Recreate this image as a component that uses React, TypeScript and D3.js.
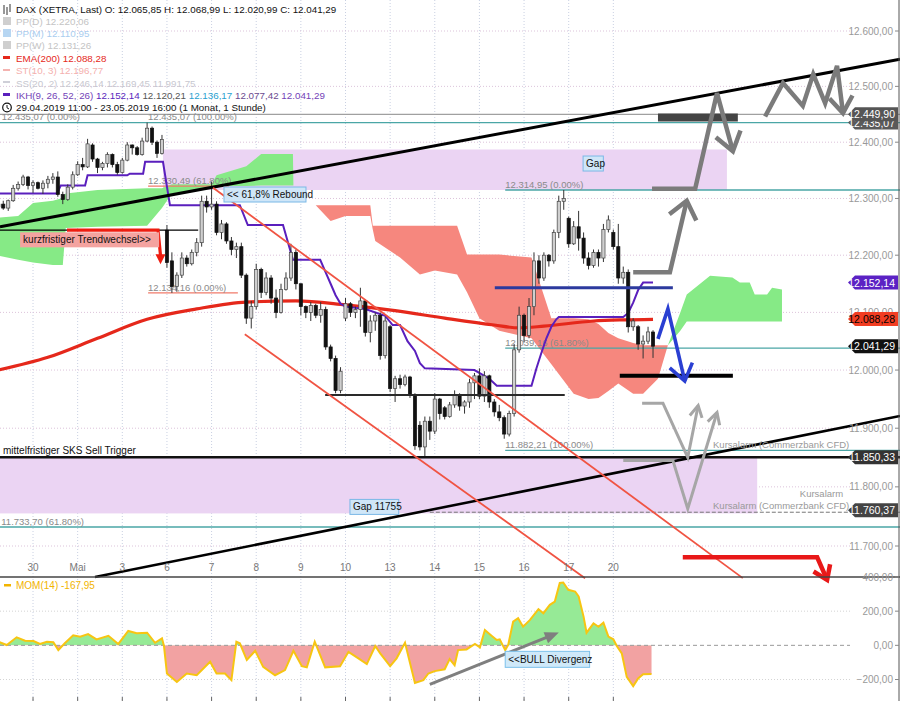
import React from "react";
import * as d3 from "d3";

const W = 900;
const H = 701;

// ---- time axis (hourly bar index) ----
const dayLabels = ["30", "Mai", "3", "6", "7", "8", "9", "10", "13", "14", "15", "16", "17", "20"];
const dayStarts = [7, 16, 25, 34, 43, 52, 61, 70, 79, 88, 97, 106, 115, 124];

// ---- candles [open, high, low, close] ----
const candles: number[][] = [
  [12285, 12295, 12280, 12290], [12290, 12296, 12280, 12283], [12283, 12298, 12278, 12296], [12296, 12324, 12294, 12318],
  [12318, 12330, 12314, 12325], [12325, 12342, 12322, 12338], [12338, 12340, 12316, 12323], [12323, 12332, 12310, 12328],
  [12328, 12330, 12316, 12318], [12318, 12332, 12308, 12327], [12327, 12340, 12318, 12334], [12334, 12345, 12326, 12338],
  [12338, 12348, 12303, 12307], [12307, 12312, 12290, 12298], [12298, 12325, 12296, 12320], [12320, 12348, 12316, 12342],
  [12342, 12366, 12340, 12360], [12360, 12372, 12350, 12356], [12356, 12406, 12354, 12397], [12395, 12398, 12365, 12370],
  [12370, 12372, 12345, 12355], [12355, 12365, 12350, 12362], [12362, 12382, 12355, 12378], [12378, 12380, 12355, 12360],
  [12360, 12365, 12342, 12346], [12346, 12372, 12344, 12368], [12368, 12400, 12366, 12395], [12395, 12396, 12378, 12390],
  [12390, 12393, 12376, 12378], [12378, 12408, 12376, 12402], [12402, 12435, 12400, 12425], [12425, 12428, 12395, 12400],
  [12400, 12403, 12372, 12380], [12380, 12413, 12378, 12405],
  [12244, 12253, 12178, 12187], [12190, 12205, 12134, 12145], [12145, 12170, 12136, 12165], [12165, 12205, 12160, 12195],
  [12195, 12200, 12180, 12185], [12185, 12210, 12182, 12205], [12205, 12230, 12198, 12222], [12222, 12305, 12215, 12295],
  [12295, 12305, 12275, 12285], [12285, 12330, 12280, 12290], [12290, 12295, 12235, 12240], [12240, 12262, 12228, 12255],
  [12255, 12258, 12220, 12225], [12225, 12232, 12200, 12210], [12210, 12222, 12195, 12215], [12215, 12222, 12160, 12165],
  [12165, 12168, 12080, 12090], [12090, 12120, 12072, 12110], [12110, 12185, 12105, 12175], [12175, 12178, 12125, 12135],
  [12135, 12170, 12130, 12160], [12160, 12165, 12115, 12125], [12125, 12140, 12090, 12100], [12100, 12150, 12098, 12140],
  [12140, 12170, 12138, 12160], [12160, 12220, 12155, 12205], [12205, 12210, 12140, 12150], [12150, 12150, 12095, 12110],
  [12110, 12112, 12090, 12100], [12100, 12118, 12085, 12112], [12112, 12115, 12090, 12095], [12095, 12118, 12082, 12105],
  [12105, 12110, 12035, 12040], [12040, 12044, 12015, 12020], [12020, 12025, 11960, 11965], [11965, 12005, 11960, 11998],
  [12090, 12125, 12085, 12115], [12115, 12118, 12092, 12100], [12100, 12110, 12090, 12105], [12105, 12143, 12075, 12120],
  [12120, 12122, 12058, 12065], [12065, 12095, 12048, 12085], [12085, 12100, 12068, 12095], [12095, 12100, 12018, 12025],
  [12025, 12092, 12020, 12085], [12075, 12078, 11962, 11968], [11968, 11990, 11945, 11985], [11985, 11992, 11968, 11975],
  [11975, 11992, 11972, 11988], [11988, 11990, 11952, 11958], [11958, 11960, 11863, 11870], [11905, 11912, 11862, 11868],
  [11868, 11920, 11850, 11912], [11912, 11920, 11880, 11895], [11895, 11960, 11890, 11950], [11950, 11952, 11915, 11925],
  [11935, 11938, 11915, 11920], [11920, 11945, 11918, 11940], [11940, 11965, 11935, 11958], [11958, 11960, 11930, 11938],
  [11938, 11948, 11925, 11945], [11945, 11985, 11935, 11978], [11978, 11995, 11950, 11990], [11990, 12003, 11950, 11955],
  [11955, 11998, 11945, 11990], [11990, 11992, 11935, 11945], [11945, 11950, 11920, 11928], [11928, 11940, 11912, 11918],
  [11918, 11922, 11882, 11890], [11890, 11930, 11886, 11925], [11925, 12045, 11920, 12035], [12035, 12110, 12030, 12095],
  [12095, 12098, 12048, 12060], [12060, 12125, 12055, 12110], [12110, 12205, 12095, 12190], [12190, 12200, 12150, 12160],
  [12160, 12205, 12155, 12200], [12200, 12202, 12180, 12190], [12190, 12245, 12185, 12240], [12240, 12305, 12230, 12295],
  [12295, 12315, 12280, 12300], [12265, 12268, 12213, 12220], [12220, 12260, 12218, 12250], [12250, 12278, 12208, 12230],
  [12230, 12240, 12185, 12195], [12195, 12205, 12175, 12182], [12182, 12210, 12178, 12205], [12205, 12210, 12180, 12195],
  [12195, 12255, 12188, 12245], [12245, 12270, 12240, 12262], [12240, 12245, 12210, 12215], [12215, 12255, 12150, 12160],
  [12160, 12180, 12150, 12170], [12170, 12175, 12065, 12075], [12075, 12090, 12068, 12085], [12075, 12078, 12035, 12045],
  [12045, 12060, 12020, 12050], [12050, 12075, 12045, 12066], [12065.85, 12068.99, 12020.99, 12041.29],
];

// ---- EMA(200) [index, value] ----
const ema200: number[][] = [
  [0, 12000], [10, 12022], [20, 12055], [30, 12088], [40, 12106], [50, 12118], [60, 12120], [70, 12113],
  [80, 12103], [90, 12090], [100, 12078], [105, 12073], [110, 12076], [120, 12085], [126, 12087], [132, 12088],
];

// ---- IKH line (purple) [index, value] ----
const ikhLine: number[][] = [
  [0, 12309], [11.8, 12309], [12.6, 12323], [17.5, 12323], [18, 12341], [26, 12341], [26.5, 12344], [29.2, 12344],
  [29.6, 12365], [33.2, 12365], [34.6, 12288], [48.7, 12288], [50.3, 12253], [57.4, 12253], [59.4, 12192], [64.9, 12192],
  [66, 12170], [67, 12150], [68, 12130], [69, 12115], [70, 12110], [74, 12106], [78, 12094], [79.5, 12078], [81, 12078],
  [82.5, 12050], [84, 12033], [85, 12012], [86, 12003], [96, 12000], [98, 11990], [99, 11985], [100.5, 11973],
  [107.5, 11973], [108.5, 12003], [109.5, 12030], [110.5, 12055], [111.5, 12075], [112.5, 12088], [113, 12092],
  [126, 12092], [127, 12099], [128, 12117], [129, 12139], [130, 12152], [132, 12152],
];

// ---- Ichimoku cloud [index, upper, lower] ----
const cloudGreen1: number[][] = [
  [0, 12266, 12199], [4, 12269, 12192], [7, 12292, 12187], [11, 12296, 12183], [13, 12301, 12183], [13.6, 12309, 12248],
  [20, 12315, 12250], [30, 12318, 12252], [33, 12318, 12283], [35, 12325, 12309], [43, 12325, 12320], [44, 12341, 12322],
  [50, 12357, 12322], [53, 12379, 12323], [59.4, 12379, 12323], [59.5, 12323, 12323],
];
const cloudRed: number[][] = [
  [64, 12288, 12288], [67, 12288, 12260], [70, 12288, 12269], [75, 12288, 12269], [75.5, 12252, 12245], [76, 12252, 12225],
  [81, 12252, 12196], [85, 12252, 12166], [88, 12252, 12173], [92.5, 12252, 12166], [94.5, 12201, 12135], [97, 12201, 12090],
  [101, 12201, 12068], [107.5, 12196, 12055], [111.5, 12090, 12010], [116, 12090, 11959], [119, 12088, 11950],
  [121, 12080, 11952], [123, 12064, 11964], [125, 12055, 11977], [128, 12047, 11959], [130, 12043, 11959],
  [133, 12043, 11985], [135, 12043, 12043],
];
const cloudGreen2: number[][] = [
  [135, 12043, 12043], [137.5, 12100, 12068], [138.8, 12131, 12084], [143.5, 12164, 12084], [148, 12161, 12084],
  [149.5, 12152, 12084], [151.5, 12152, 12084], [152.5, 12131, 12084], [155, 12131, 12084], [156, 12143, 12084],
  [158, 12140, 12084],
];

// ---- MOM(14) [index, value] ----
const mom: number[][] = [
  [0, 21], [1.7, 2], [3.7, 47], [5.4, 27], [7.1, 25], [8.4, 8], [9.8, 21], [11.1, 18], [12.1, -28], [13.4, 12],
  [15.1, 59], [16.5, 51], [18.1, 66], [19.8, 35], [22.2, 56], [24.2, 8], [26.2, 84], [27.9, 71], [30, 74], [31.6, 15],
  [33, 41], [33.4, -4], [34, -165], [36, -214], [38, -165], [40, -175], [42.7, -96], [44, -165], [45.7, -165], [47, -204],
  [48, 21], [48.7, 12], [50.1, -86], [51.8, -32], [53.4, -126], [55.8, -175], [57.8, -145], [59.5, -32], [61.2, -122],
  [62.2, -129], [63.8, 21], [65.9, -129], [68.9, -122], [70.6, -38], [72.6, -76], [74.3, -110], [76, -4], [77, -47],
  [79, -122], [80.3, -76], [82, 15], [84, -220], [85.7, -204], [86.7, -165], [88, -151], [90, -140], [91, -80],
  [92, -116], [92.7, -28], [94.4, -24], [96.1, 8], [97.1, -12], [98.1, 90], [99.5, 55], [100.5, 31], [101.1, 35],
  [102.2, -28], [102.8, 2], [103.8, 139], [104.8, 159], [105.8, 109], [107.2, 149], [108.9, 212], [109.9, 188],
  [111.2, 237], [112.2, 256], [113.2, 365], [113.9, 368], [114.9, 325], [116.3, 315], [117, 286], [118, 168],
  [118.6, 74], [120, 129], [121, 109], [122, 133], [123, 51], [124, 35], [124.7, -4], [125.7, -47], [126.7, -185],
  [128, -239], [129, -194], [130, -169], [131.7, -168],
];
const momLegend = "MOM(14)  -167,95";

const priceTicks = [11700, 11800, 11900, 12000, 12100, 12200, 12300, 12400, 12500, 12600];
const momTicks = [400, 200, 0, -200];

// ---- horizontal levels ----
const fibLevels = [
  { price: 12449.9, from: 0, to: 182, color: "#a0a0a0", label: "", at: 0 },
  { price: 12435.07, from: 0, to: 182, color: "#4aa6a6", label: "12.435,07 (0.00%)", at: 0.7 },
  { price: 12322, from: 30.2, to: 46.5, color: "#f07a6a", label: "12.330,49 (61.80%)", at: 30.2 },
  { price: 12134.16, from: 30.2, to: 48.3, color: "#f07a6a", label: "12.134,16 (0.00%)", at: 30.2 },
  { price: 12314.95, from: 102.2, to: 182, color: "#4aa6a6", label: "12.314,95 (0.00%)", at: 102.2 },
  { price: 12038, from: 102.2, to: 182, color: "#4aa6a6", label: "12.039,16 (61.80%)", at: 102.2 },
  { price: 11862, from: 102.2, to: 182, color: "#4aa6a6", label: "11.882,21 (100.00%)", at: 102.2 },
  { price: 11732, from: 0, to: 182, color: "#4aa6a6", label: "11.733,70 (61.80%)", at: 0.6 },
];
const extraLabel = { text: "12.435,07 (100.00%)", idx: 30.2, price: 12435.07 };

// ---- gaps [fromIndex, toIndex, top, bottom] ----
const gaps: number[][] = [
  [33.2, 146.9, 12387, 12315],
  [0, 153, 11850.33, 11755],
];

// ---- drawn lines [index, price] ----
const trendUpper: number[][] = [[0.34, 12250], [181.8, 12549]];
const trendLower: number[][] = [[19.5, 11648], [181.8, 11921]];
const channelUpper: number[][] = [[43.3, 12319], [150.1, 11646]];
const channelLower: number[][] = [[49.7, 12062], [118.3, 11646]];
const sksLevel = 11850.33;
const supportLine: number[][] = [[65.9, 11957], [114.2, 11957]];
const blueLine: number[][] = [[100.1, 12143], [136, 12143]];
const blackShort: number[][] = [[125.3, 11990], [148.1, 11990]];
const darkBar: number[][] = [[133, 12444], [149.1, 12444]];
const kurzLine: number[][] = [[0, 12244], [40.3, 12244]];
const kurzRed: number[][] = [[13.85, 12244], [32.2, 12244], [32.7, 12200]];
const alarmDashed: number[][] = [[87, 11757], [182, 11757]];

const arrowGrayTop: number[][] = [[131.8, 12317], [140.5, 12317], [144.9, 12488], [148.1, 12384]];
const arrowGrayMid: number[][] = [[128, 12170], [135.4, 12170], [138.8, 12296]];
const zigzag: number[][] = [[154.6, 12446], [158.2, 12506], [162.2, 12465], [164.3, 12522], [166.7, 12470], [169.1, 12537], [170.3, 12452]];
const arrowBlue: number[][] = [[133, 12054], [135, 12106], [138.4, 11981]];
const arrowLight1: number[][] = [[129.8, 11943], [134, 11943], [139, 11850], [141.1, 11939]];
const arrowLight2: number[][] = [[126, 11845], [136, 11845], [139, 11763], [144.9, 11927]];
const arrowRed: number[][] = [[138, 11681], [165.1, 11681], [167.1, 11643]];
const momArrow: number[][] = [[87, -228], [111.8, 61]];

// ---- text annotations ----
const boxes = [
  { text: "Gap", idx: 117.9, price: 12362, fill: "#cfe6f8", stroke: "#7bb8e6" },
  { text: "Gap 11755", idx: 70.9, price: 11766, fill: "#cfe6f8", stroke: "#7bb8e6" },
  { text: "<< 61,8% Rebound", idx: 45.5, price: 12307, fill: "#cfe6f8", stroke: "#7bb8e6" },
  { text: "kurzfristiger Trendwechsel>>", idx: 4.4, price: 12227, fill: "#f4a3a0", stroke: "none" },
];
const momBox = { text: "<<BULL Divergenz", idx: 102.2, value: -82 };
const alarmTexts = [
  { text: "Kursalarm (Commerzbank CFD)", idx: 144.1, price: 11866 },
  { text: "Kursalarm (Commerzbank CFD)", idx: 144.1, price: 11763 },
  { text: "Kursalarm", idx: 161.6, price: 11782 },
];

const tags = [
  { price: 12435.07, label: "12.435,07", bg: "#5a5a5a", fg: "#fff" },
  { price: 12449.9, label: "12.449,90", bg: "#555555", fg: "#fff" },
  { price: 12152.14, label: "12.152,14", bg: "#5b22c4", fg: "#fff" },
  { price: 12088.28, label: "12.088,28", bg: "#f23d22", fg: "#000" },
  { price: 12041.29, label: "12.041,29", bg: "#111111", fg: "#fff" },
  { price: 11850.33, label: "11.850,33", bg: "#333333", fg: "#fff" },
  { price: 11760.37, label: "11.760,37", bg: "#444444", fg: "#fff" },
];

const deLocale = d3.formatLocale({ decimal: ",", thousands: ".", grouping: [3], currency: ["", "€"] });
const fmt = deLocale.format(",.2f");

function headPath(x1: number, y1: number, x2: number, y2: number, len: number, ang: number) {
  const a = Math.atan2(y2 - y1, x2 - x1);
  const w1x = x2 - len * Math.cos(a - ang), w1y = y2 - len * Math.sin(a - ang);
  const w2x = x2 - len * Math.cos(a + ang), w2y = y2 - len * Math.sin(a + ang);
  return `M${w1x},${w1y}L${x2},${y2}L${w2x},${w2y}`;
}
function triPath(x1: number, y1: number, x2: number, y2: number, len: number, half: number) {
  const a = Math.atan2(y2 - y1, x2 - x1);
  const bx = x2 - len * Math.cos(a), by = y2 - len * Math.sin(a);
  const px = -Math.sin(a) * half, py = Math.cos(a) * half;
  return `M${x2},${y2}L${bx + px},${by + py}L${bx - px},${by - py}Z`;
}

export default function App() {
  const xS = d3.scaleLinear().domain([0, 100]).range([-1.7, 494.3]);
  const yS = d3.scaleLog().domain([11700, 12600]).range([546, 31]);
  const yM = d3.scaleLinear().domain([-200, 400]).range([679.5, 577]);

  const pLine = d3.line<number[]>().x((d) => xS(d[0])).y((d) => yS(d[1]));
  const mLine = d3.line<number[]>().x((d) => xS(d[0])).y((d) => yM(d[1]));
  const cloudArea = d3.area<number[]>().x((d) => xS(d[0])).y0((d) => yS(d[2])).y1((d) => yS(d[1]));
  const momArea = d3.area<number[]>().x((d) => xS(d[0])).y0(yM(0)).y1((d) => yM(d[1]));
  const emaPath = d3.line<number[]>().x((d) => xS(d[0])).y((d) => yS(d[1])).curve(d3.curveMonotoneX)(ema200) || "";

  const font = "'Liberation Sans', Arial, Helvetica, sans-serif";
  const plotRight = 850;

  const arrowWithHead = (pts: number[][], color: string, width: number, len: number, ang: number, key: string) => {
    const px = pts.map((d) => [xS(d[0]), yS(d[1])]);
    const n = px.length;
    return (
      <g key={key} stroke={color} strokeWidth={width} fill="none" strokeLinejoin="miter" strokeLinecap="butt">
        <path d={"M" + px.map((p) => p.join(",")).join("L")} />
        <path d={headPath(px[n - 2][0], px[n - 2][1], px[n - 1][0], px[n - 1][1], len, ang)} />
      </g>
    );
  };

  return (
    <svg width={W} height={H} style={{ position: "absolute", left: 0, top: 0, background: "#fff" }} fontFamily={font}>
      <defs>
        <clipPath id="momAbove"><rect x={0} y={560} width={W} height={yM(0) - 560} /></clipPath>
        <clipPath id="momBelow"><rect x={0} y={yM(0)} width={W} height={H - yM(0)} /></clipPath>
        <clipPath id="pricePanel"><rect x={0} y={0} width={W} height={577} /></clipPath>
      </defs>
      <rect x={0} y={0} width={W} height={H} fill="#fff" />

      {/* grid */}
      {dayStarts.map((d, i) => (
        <line key={"vg" + i} x1={xS(d)} x2={xS(d)} y1={0} y2={H} stroke="#c9d0e2" strokeDasharray="1,2" />
      ))}
      {priceTicks.map((p) => (
        <line key={"hg" + p} x1={0} x2={plotRight} y1={yS(p)} y2={yS(p)} stroke="#dcc3da" strokeDasharray="1,2" />
      ))}
      {[200, -200].map((v) => (
        <line key={"mg" + v} x1={0} x2={plotRight} y1={yM(v)} y2={yM(v)} stroke="#d4d4d4" strokeDasharray="1,2" />
      ))}

      {/* gaps */}
      {gaps.map((g, i) => (
        <rect key={"gap" + i} x={xS(g[0])} y={yS(g[2])} width={xS(g[1]) - xS(g[0])} height={yS(g[3]) - yS(g[2])} fill="#ebd4f3" />
      ))}

      {/* ichimoku cloud */}
      <g clipPath="url(#pricePanel)">
        <path d={cloudArea(cloudGreen1) || ""} fill="#86ea86" />
        <path d={cloudArea(cloudRed) || ""} fill="#f6877e" />
        <path d={cloudArea(cloudGreen2) || ""} fill="#86ea86" />
      </g>

      {/* fib / level lines */}
      {fibLevels.map((f, i) => (
        <g key={"fib" + i}>
          <line x1={xS(f.from)} x2={Math.min(xS(f.to), W)} y1={yS(f.price)} y2={yS(f.price)} stroke={f.color} strokeWidth={1.3} />
          {f.label ? (
            <text x={xS(f.at)} y={yS(f.price) - 2.2} fontSize={9.5} fill="#8a8a8a">{f.label}</text>
          ) : null}
        </g>
      ))}
      <text x={xS(extraLabel.idx)} y={yS(extraLabel.price) - 2.2} fontSize={9.5} fill="#8a8a8a">{extraLabel.text}</text>
      <path d={pLine(alarmDashed) || ""} stroke="#777" strokeWidth={1} strokeDasharray="4,2" fill="none" />

      {/* EMA & IKH */}
      <path d={emaPath} stroke="#e5281b" strokeWidth={3.2} fill="none" />
      <path d={pLine(ikhLine) || ""} stroke="#5a1fbd" strokeWidth={2} fill="none" />

      {/* candles */}
      {candles.map((c, i) => {
        const x = xS(i);
        const up = c[3] >= c[0];
        const yo = yS(c[0]), yc = yS(c[3]);
        const top = Math.min(yo, yc), bh = Math.max(1, Math.abs(yo - yc));
        return (
          <g key={"c" + i}>
            <line x1={x} x2={x} y1={yS(c[1])} y2={yS(c[2])} stroke="#333" strokeWidth={1} />
            <rect x={x - 1.6} y={top} width={3.2} height={bh} fill={up ? "#cfcfcf" : "#111"} stroke={up ? "#444" : "#111"} strokeWidth={0.7} />
          </g>
        );
      })}

      {/* horizontal drawings */}
      <path d={pLine(kurzLine) || ""} stroke="#000" strokeWidth={1.3} fill="none" />
      <line x1={0} x2={W} y1={yS(sksLevel)} y2={yS(sksLevel)} stroke="#111" strokeWidth={2.6} />
      <path d={pLine(supportLine) || ""} stroke="#2a2a2a" strokeWidth={2} fill="none" />
      <path d={pLine(blueLine) || ""} stroke="#2c3a9e" strokeWidth={3} fill="none" />
      <path d={pLine(darkBar) || ""} stroke="#444" strokeWidth={8} fill="none" />

      {/* trend / channel lines */}
      <path d={pLine(trendUpper) || ""} stroke="#000" strokeWidth={3} fill="none" />
      <path d={pLine(trendLower) || ""} stroke="#000" strokeWidth={2.6} fill="none" />
      <path d={pLine(channelUpper) || ""} stroke="#f05443" strokeWidth={1.8} fill="none" />
      <path d={pLine(channelLower) || ""} stroke="#f05443" strokeWidth={1.8} fill="none" />
      <path d={pLine(blackShort) || ""} stroke="#000" strokeWidth={4} fill="none" />

      {/* red short-term arrow */}
      {(() => {
        const px = kurzRed.map((d) => [xS(d[0]), yS(d[1])]);
        const tipY = px[2][1] + 9;
        return (
          <g>
            <path d={"M" + px.map((p) => p.join(",")).join("L")} stroke="#ee1c10" strokeWidth={3.2} fill="none" />
            <path d={triPath(px[2][0], px[2][1] - 5, px[2][0], tipY, 10, 5)} fill="#ee1c10" />
          </g>
        );
      })()}

      {/* scenario arrows */}
      {arrowWithHead(arrowLight1, "#a6a6a6", 3, 13, 0.5, "l1")}
      {arrowWithHead(arrowLight2, "#a6a6a6", 3, 13, 0.5, "l2")}
      {arrowWithHead(arrowGrayTop, "#7b7b7b", 4.5, 22, 0.62, "gt")}
      {arrowWithHead(arrowGrayMid, "#7b7b7b", 4.5, 22, 0.68, "gm")}
      {arrowWithHead(zigzag, "#7b7b7b", 4.5, 20, 0.62, "zz")}
      {arrowWithHead(arrowBlue, "#2a3fd2", 3.6, 20, 0.62, "bl")}
      {arrowWithHead(arrowRed, "#e81818", 4.5, 16, 0.6, "rd")}

      {/* annotation boxes */}
      {boxes.map((b, i) => {
        const w = b.text.length * 4.75 + 6;
        const x = xS(b.idx), y = yS(b.price);
        return (
          <g key={"bx" + i}>
            <rect x={x} y={y - 7.5} width={w} height={15} fill={b.fill} stroke={b.stroke} strokeWidth={1} />
            <text x={x + 3} y={y + 3.5} fontSize={10} fill="#111">{b.text}</text>
          </g>
        );
      })}
      <text x={3} y={yS(sksLevel) - 3} fontSize={10} fill="#111">mittelfristiger SKS Sell Trigger</text>
      {alarmTexts.map((a, i) => (
        <text key={"al" + i} x={xS(a.idx)} y={yS(a.price)} fontSize={9.5} fill="#999">{a.text}</text>
      ))}

      {/* price panel bottom axis */}
      <line x1={0} x2={W} y1={577} y2={577} stroke="#444" strokeWidth={1.5} />
      {dayLabels.map((l, i) => (
        <text key={"dl" + i} x={xS(dayStarts[i])} y={571} fontSize={10} fill="#777" textAnchor="middle">{l}</text>
      ))}
      {dayStarts.map((d, i) => (
        <line key={"dt" + i} x1={xS(d)} x2={xS(d)} y1={697} y2={701} stroke="#666" />
      ))}

      {/* MOM panel */}
      <path d={momArea(mom) || ""} fill="#96ea96" clipPath="url(#momAbove)" />
      <path d={momArea(mom) || ""} fill="#f2a2a2" clipPath="url(#momBelow)" />
      <line x1={0} x2={plotRight} y1={yM(0)} y2={yM(0)} stroke="#999" strokeDasharray="4,3" />
      <path d={mLine(mom) || ""} stroke="#f7c512" strokeWidth={2} fill="none" />
      {(() => {
        const a = momArrow.map((d) => [xS(d[0]), yM(d[1])]);
        return (
          <g>
            <line x1={a[0][0]} y1={a[0][1]} x2={a[1][0]} y2={a[1][1]} stroke="#7f7f7f" strokeWidth={3} />
            <path d={triPath(a[0][0], a[0][1], a[1][0] + 6, a[1][1] - 2.4, 14, 6)} fill="#7f7f7f" />
          </g>
        );
      })()}
      {(() => {
        const w = momBox.text.length * 4.9 + 6;
        const x = xS(momBox.idx), y = yM(momBox.value);
        return (
          <g>
            <rect x={x} y={y - 8} width={w} height={16} fill="#cfe9f9" stroke="#7cc0ea" strokeWidth={1} />
            <text x={x + 3} y={y + 3.5} fontSize={10} fill="#111">{momBox.text}</text>
          </g>
        );
      })()}
      <g>
        <rect x={4} y={584} width={7} height={2.5} fill="#f2b400" />
        <text x={16} y={589} fontSize={10} fill="#f2b400">{momLegend}</text>
      </g>

      {/* right axis */}
      <line x1={899} x2={899} y1={0} y2={H} stroke="#555" strokeWidth={1} />
      {priceTicks.map((p) => (
        <g key={"pt" + p}>
          <text x={893} y={yS(p) + 3.5} fontSize={10} fill="#999" textAnchor="end">{fmt(p)}</text>
          <line x1={895} x2={899} y1={yS(p)} y2={yS(p)} stroke="#888" />
        </g>
      ))}
      {momTicks.map((v) => (
        <g key={"mt" + v}>
          <text x={893} y={yM(v) + 3.5} fontSize={10} fill="#999" textAnchor="end">{fmt(v)}</text>
          <line x1={895} x2={899} y1={yM(v)} y2={yM(v)} stroke="#888" />
        </g>
      ))}
      {tags.map((t, i) => {
        const y = yS(t.price);
        return (
          <g key={"tg" + i}>
            <path d={`M848,${y}L855,${y - 7}L898,${y - 7}L898,${y + 7}L855,${y + 7}Z`} fill={t.bg} />
            <text x={895} y={y + 4} fontSize={10.5} fill={t.fg} textAnchor="end">{t.label}</text>
          </g>
        );
      })}

      {/* legend */}
      <g fontSize={9.8}>
        <g stroke="#333" strokeWidth={1}>
          <line x1={4} x2={4} y1={5} y2={14} />
          <line x1={7} x2={7} y1={7} y2={15} />
          <line x1={10} x2={10} y1={4} y2={12} />
        </g>
        <text x={16} y={13} fill="#111">DAX (XETRA, Last)  O: 12.065,85  H: 12.068,99  L: 12.020,99  C: 12.041,29</text>
        <rect x={3} y={17} width={8} height={8} fill="#cfcfcf" />
        <text x={16} y={25} fill="#c4c4c4">PP(D)  12.220,06</text>
        <rect x={3} y={29} width={8} height={8} fill="#b7d6f2" />
        <text x={16} y={37} fill="#a9cdef">PP(M)  12.110,95</text>
        <rect x={3} y={41} width={8} height={8} fill="#cfcfcf" />
        <text x={16} y={49} fill="#c4c4c4">PP(W)  12.131,26</text>
        <rect x={3} y={56} width={7} height={3} fill="#e5281b" />
        <text x={16} y={62} fill="#e5281b">EMA(200)  12.088,28</text>
        <rect x={3} y={69} width={7} height={2} fill="#f4b3b0" />
        <text x={16} y={74} fill="#f4b0ae">ST(10, 3)  12.196,77</text>
        <rect x={3} y={81} width={7} height={2} fill="#cfcfd8" />
        <text x={16} y={87} fill="#c8c8d0">SS(20, 2)  12.246,14  12.169,45  11.991,75</text>
        <rect x={3} y={93} width={7} height={3} fill="#5a1fbd" />
        <text x={16} y={99}>
          <tspan fill="#7343b8">IKH(9, 26, 52, 26)  </tspan>
          <tspan fill="#5a1fbd">12.152,14  </tspan>
          <tspan fill="#555">12.120,21  </tspan>
          <tspan fill="#2b9fd0">12.136,17  </tspan>
          <tspan fill="#6a4a90">12.077,42  </tspan>
          <tspan fill="#7343b8">12.041,29</tspan>
        </text>
        <circle cx={7} cy={107.5} r={4.3} fill="none" stroke="#111" strokeWidth={1.2} />
        <path d="M7,105L7,107.8L9,109" stroke="#111" strokeWidth={1} fill="none" />
        <text x={16} y={111} fill="#111">29.04.2019 11:00 - 23.05.2019 16:00  (1 Monat, 1 Stunde)</text>
      </g>
    </svg>
  );
}
